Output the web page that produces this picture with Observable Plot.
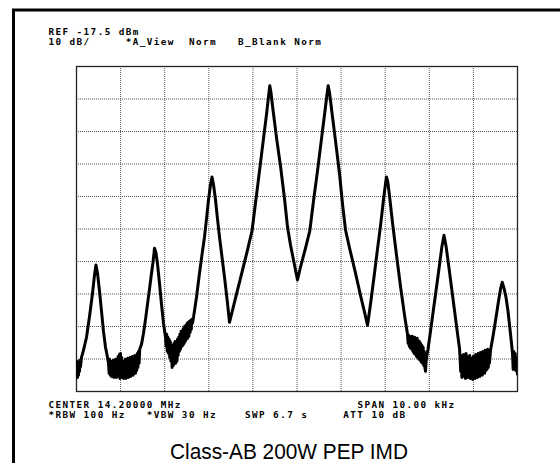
<!DOCTYPE html>
<html><head><meta charset="utf-8">
<script src="https://cdn.jsdelivr.net/npm/d3@7"></script>
<script src="https://cdn.jsdelivr.net/npm/@observablehq/plot@0.6"></script>
<style>
body{margin:0;background:#fff}
#wrap{position:relative;width:560px;height:463px;overflow:hidden;background:#fff}
#wrap svg{position:absolute;left:0;top:0}
</style>
</head><body><div id="wrap"></div>
<script>
// Spectrum analyzer settings (tick / annotation text)
const refLevelDbm = -17.5;
const dbPerDiv = 10;
const spanKHz = 10;
const freqGridKHz = [-5,-4,-3,-2,-1,0,1,2,3,4,5];
const levelGridDbm = [-117.5,-107.5,-97.5,-87.5,-77.5,-67.5,-57.5,-47.5,-37.5,-27.5,-17.5];
// [text, character column on the analyzer screen]
const headerLines = [
  [["REF -17.5 dBm", 0]],
  [["10 dB/", 0], ["*A_View", 11], ["Norm", 20], ["B_Blank", 27], ["Norm", 35]]
];
const footerLines = [
  [["CENTER 14.20000 MHz", 0], ["SPAN 10.00 kHz", 44]],
  [["*RBW 100 Hz", 0], ["*VBW 30 Hz", 14], ["SWP 6.7 s", 28], ["ATT 10 dB", 42]]
];
const titleText = "Class-AB 200W PEP IMD";

// Trace: [offset from 14.2 MHz in kHz, level in dBm]
const leftEdgeNoise = [[-5.000,-111.9],[-4.989,-108.2],[-4.977,-113.2],[-4.966,-108.8],[-4.955,-112.5],[-4.943,-108.5],[-4.932,-111.3],[-4.921,-107.9],[-4.909,-109.8]];
const tone1 = [[-4.887,-107.0],[-4.841,-104.8],[-4.773,-100.8],[-4.705,-94.4],[-4.637,-87.3],[-4.592,-81.7],[-4.558,-78.6],[-4.524,-81.1],[-4.478,-86.6],[-4.433,-92.8],[-4.388,-99.0],[-4.342,-103.9],[-4.297,-107.0]];
const floor1 = [[-4.274,-108.8],[-4.260,-111.9],[-4.247,-107.6],[-4.233,-112.5],[-4.220,-108.2],[-4.206,-112.9],[-4.192,-108.5],[-4.179,-112.2],[-4.165,-107.9],[-4.152,-113.2],[-4.138,-108.8],[-4.124,-112.5],[-4.111,-107.6],[-4.097,-113.2],[-4.084,-108.2],[-4.070,-112.2],[-4.056,-106.7],[-4.043,-112.9],[-4.029,-106.1],[-4.016,-113.5],[-4.002,-105.8],[-3.988,-113.2],[-3.975,-107.0],[-3.961,-112.5],[-3.948,-108.2],[-3.934,-113.5],[-3.920,-108.8],[-3.907,-112.9],[-3.893,-107.6],[-3.880,-113.5],[-3.866,-108.5],[-3.852,-112.5],[-3.839,-107.3],[-3.825,-113.2],[-3.812,-107.9],[-3.798,-112.2],[-3.784,-107.0],[-3.771,-112.9],[-3.757,-107.6],[-3.744,-111.9],[-3.730,-106.7],[-3.716,-112.5],[-3.703,-107.3],[-3.689,-111.6],[-3.676,-106.4],[-3.662,-111.9],[-3.648,-106.7],[-3.635,-111.0],[-3.621,-105.8],[-3.608,-110.1],[-3.594,-105.2],[-3.580,-108.8],[-3.567,-104.5]];
const tone2 = [[-3.526,-103.0],[-3.481,-99.6],[-3.435,-95.3],[-3.390,-90.6],[-3.345,-86.0],[-3.299,-81.1],[-3.265,-77.7],[-3.231,-73.4],[-3.197,-74.9],[-3.163,-78.3],[-3.118,-84.2],[-3.073,-90.6],[-3.027,-96.5],[-2.982,-100.8]];
const floor2 = [[-2.968,-103.6],[-2.954,-99.9],[-2.941,-105.2],[-2.927,-100.8],[-2.914,-105.8],[-2.900,-101.4],[-2.886,-107.0],[-2.873,-102.1],[-2.859,-108.2],[-2.846,-103.3],[-2.832,-110.1],[-2.818,-103.9],[-2.805,-109.5],[-2.791,-102.7],[-2.778,-107.6],[-2.764,-102.1],[-2.750,-108.8],[-2.737,-103.0],[-2.723,-108.2],[-2.710,-101.4],[-2.696,-106.4],[-2.682,-100.8],[-2.669,-105.2],[-2.655,-99.9],[-2.642,-104.5],[-2.628,-99.0],[-2.614,-103.6],[-2.601,-98.7],[-2.587,-103.3],[-2.574,-98.1],[-2.560,-102.7],[-2.546,-97.4],[-2.533,-102.1],[-2.519,-97.1],[-2.506,-101.4],[-2.492,-96.5],[-2.478,-101.1],[-2.465,-96.2],[-2.451,-100.5],[-2.438,-95.9],[-2.424,-99.3],[-2.410,-95.6],[-2.397,-98.4],[-2.383,-95.3],[-2.370,-96.5]];
const tone3 = [[-2.347,-94.7],[-2.279,-88.5],[-2.211,-81.1],[-2.143,-74.3],[-2.098,-70.0],[-2.052,-64.4],[-2.007,-58.5],[-1.961,-53.9],[-1.927,-51.5],[-1.893,-53.9],[-1.848,-58.5],[-1.803,-64.4],[-1.757,-70.0],[-1.712,-74.9],[-1.644,-82.3],[-1.576,-90.3],[-1.531,-96.2]];
const tone4 = [[-1.417,-90.0],[-1.281,-82.6],[-1.145,-75.2],[-1.020,-68.1],[-0.941,-59.5],[-0.850,-49.6],[-0.760,-39.7],[-0.692,-32.3],[-0.646,-26.8],[-0.617,-23.4],[-0.590,-25.5],[-0.556,-29.5],[-0.465,-39.4],[-0.374,-48.1],[-0.283,-58.2],[-0.215,-66.9],[-0.147,-72.4],[-0.057,-78.6],[0.011,-83.2]];
const tone5 = [[0.079,-79.2],[0.193,-73.4],[0.290,-68.1],[0.374,-58.9],[0.465,-49.6],[0.556,-39.7],[0.635,-31.1],[0.680,-26.1],[0.707,-23.4],[0.737,-25.5],[0.782,-30.5],[0.873,-40.3],[0.964,-50.5],[1.032,-59.8],[1.100,-67.8],[1.213,-74.6],[1.327,-81.1],[1.440,-87.9],[1.531,-93.1],[1.599,-97.1]];
const tone6 = [[1.667,-90.6],[1.757,-81.1],[1.825,-73.7],[1.893,-66.6],[1.961,-58.5],[2.007,-53.6],[2.029,-51.5],[2.059,-53.0],[2.098,-57.3],[2.166,-65.6],[2.256,-75.5],[2.347,-85.1],[2.438,-94.0]];
const floor3 = [[2.506,-99.9],[2.520,-102.7],[2.533,-100.2],[2.547,-103.6],[2.560,-100.5],[2.574,-104.2],[2.588,-100.8],[2.601,-104.5],[2.615,-100.5],[2.628,-105.2],[2.642,-101.1],[2.656,-105.8],[2.669,-100.8],[2.683,-106.1],[2.696,-101.4],[2.710,-106.7],[2.724,-101.1],[2.737,-107.0],[2.751,-101.8],[2.764,-107.6],[2.778,-102.1],[2.792,-107.9],[2.805,-102.7],[2.819,-108.5],[2.832,-103.3],[2.846,-108.8],[2.860,-103.9],[2.873,-109.5],[2.887,-105.2],[2.900,-110.1],[2.914,-111.3],[2.928,-108.2],[2.948,-106.1]];
const tone7 = [[2.971,-104.5],[3.027,-99.0],[3.095,-92.2],[3.163,-85.4],[3.231,-78.6],[3.288,-72.7],[3.333,-69.4],[3.379,-72.7],[3.435,-78.3],[3.503,-85.4],[3.571,-92.5],[3.639,-99.6],[3.685,-104.2]];
const floor4 = [[3.698,-107.0],[3.712,-111.3],[3.725,-106.4],[3.739,-113.2],[3.752,-107.3],[3.766,-112.5],[3.780,-106.1],[3.793,-112.9],[3.807,-107.0],[3.820,-113.5],[3.834,-105.8],[3.848,-112.2],[3.861,-106.7],[3.875,-113.2],[3.888,-107.6],[3.902,-112.5],[3.916,-106.4],[3.929,-113.5],[3.943,-107.3],[3.956,-112.9],[3.970,-108.2],[3.984,-113.8],[3.997,-106.7],[4.011,-113.2],[4.024,-107.6],[4.038,-113.5],[4.052,-106.1],[4.065,-112.5],[4.079,-107.0],[4.092,-113.2],[4.106,-105.8],[4.120,-112.2],[4.133,-106.7],[4.147,-112.9],[4.160,-105.5],[4.174,-111.9],[4.188,-106.4],[4.201,-112.5],[4.215,-105.2],[4.228,-111.6],[4.242,-106.1],[4.256,-111.9],[4.269,-104.8],[4.283,-111.0],[4.296,-105.5],[4.310,-110.7],[4.324,-104.5],[4.337,-110.1],[4.351,-105.2],[4.364,-108.8],[4.388,-104.8]];
const tone8 = [[4.433,-101.4],[4.478,-97.7],[4.524,-93.7],[4.569,-89.7],[4.615,-86.0],[4.653,-83.9],[4.694,-85.7],[4.739,-88.5],[4.785,-92.8],[4.830,-98.4],[4.864,-102.7],[4.887,-105.8]];
const rightEdgeNoise = [[4.902,-110.7],[4.916,-105.2],[4.932,-109.5],[4.948,-105.8],[4.961,-111.0],[4.977,-107.0],[4.993,-111.6],[5.000,-112.2]];

const trace = [leftEdgeNoise, tone1, floor1, tone2, floor2, tone3, tone4, tone5, tone6, floor3, tone7, floor4, tone8, rightEdgeNoise]
  .flat().map(([f, l]) => ({f, l}));

const chart = Plot.plot({
  width: 560, height: 463,
  marginTop: 66, marginLeft: 76, marginRight: 43, marginBottom: 72,
  x: {domain: [-spanKHz/2, spanKHz/2], axis: null},
  y: {domain: [refLevelDbm - 10*dbPerDiv, refLevelDbm], axis: null},
  style: {background: "transparent"},
  marks: [
    Plot.ruleX(freqGridKHz, {stroke: "#555", strokeWidth: 1, strokeDasharray: "1,1"}),
    Plot.ruleY(levelGridDbm, {stroke: "#555", strokeWidth: 1, strokeDasharray: "1,1"}),
    Plot.frame({stroke: "#222", strokeWidth: 1.3}),
    Plot.line(trace, {x: "f", y: "l", stroke: "#000", strokeWidth: 3, strokeLinejoin: "round", strokeLinecap: "round", clip: true})
  ]
});
const wrap = document.getElementById("wrap");
wrap.appendChild(chart);

// Overlay: annotation text and outer frame
const ov = d3.select(wrap).append("svg").attr("width", 560).attr("height", 463);
ov.append("path").attr("d", "M13.5,463V10H560").attr("fill", "none").attr("stroke", "#000").attr("stroke-width", 3);

const textLeft = 48.5, pitch = 7.02, monoSize = 9.3;
function drawLines(lines, baselines) {
  lines.forEach((row, r) => {
    row.forEach(([txt, col]) => {
      ov.append("text").attr("x", textLeft + col * pitch).attr("y", baselines[r])
        .attr("font-family", "'DejaVu Sans Mono', monospace").attr("font-size", monoSize)
        .attr("font-weight", "bold").attr("letter-spacing", (pitch - monoSize * 0.602) + "px")
        .attr("fill", "#000").text(txt);
    });
  });
}
drawLines(headerLines, [34.9, 45.0]);
drawLines(footerLines, [407.5, 417.6]);

ov.append("text").attr("x", 170).attr("y", 458.5)
  .attr("font-family", "'Liberation Sans Narrow', 'Liberation Sans', Arial, sans-serif")
  .attr("font-size", 22.5).attr("textLength", 238).attr("lengthAdjust", "spacingAndGlyphs")
  .attr("fill", "#000").text(titleText);
</script>
</body></html>
